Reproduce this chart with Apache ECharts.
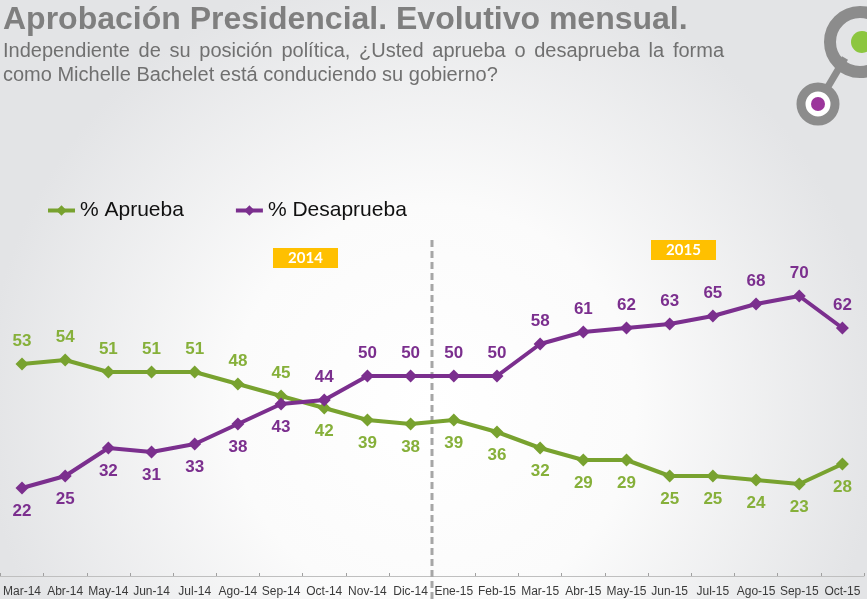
<!DOCTYPE html>
<html>
<head>
<meta charset="utf-8">
<script src="https://cdn.jsdelivr.net/npm/echarts@6/dist/echarts.min.js"></script>
<style>
html,body{margin:0;padding:0;}
#chart{width:867px;height:599px;}
</style>
</head>
<body>
<div id="chart"></div>
<script>
// meses
var meses = ['Mar-14','Abr-14','May-14','Jun-14','Jul-14','Ago-14','Sep-14','Oct-14','Nov-14','Dic-14',
    'Ene-15','Feb-15','Mar-15','Abr-15','May-15','Jun-15','Jul-15','Ago-15','Sep-15','Oct-15'];
var aprueba = [53,54,51,51,51,48,45,42,39,38,39,36,32,29,29,25,25,24,23,28];
var desaprueba = [22,25,32,31,33,38,43,44,50,50,50,50,58,61,62,63,65,68,70,62];
// donde se cruzan las etiquetas (indice desde el que cambian de lado)
var cruce = 7;

var verde = '#78a22f';
var morado = '#7b2f8e';

function datos(valores, arribaAntes){
    var out = [];
    for(var i = 0;i<valores.length;i++){
        var arriba = i < cruce ? arribaAntes : !arribaAntes;
        out.push({
            value: valores[i],
            label: {position: arriba ? 'top' : 'bottom'}
        });
    }
    return out;
}

var chart = echarts.init(document.getElementById('chart'));
var font = '"Liberation Sans", Arial, sans-serif';

// primera linea del subtitulo justificada (palabra por palabra)
var linea1 = 'Independiente de su posición política, ¿Usted aprueba o desaprueba la forma';
var subFont = '20px ' + font;
var ctx = document.createElement('canvas').getContext('2d');
ctx.font = subFont;
var palabras = linea1.split(' ');
var anchoTotal = 0;
for(var i = 0;i<palabras.length;i++){
    anchoTotal += ctx.measureText(palabras[i]).width;
}
var x0 = 3, x1 = 724;
var hueco = (x1 - x0 - anchoTotal) / (palabras.length - 1);
var subtitulo = [];
var xp = x0;
for(var i = 0;i<palabras.length;i++){
    subtitulo.push({type: 'text', x: xp, y: 41, style: {text: palabras[i], font: subFont, fill: '#707070'}});
    xp += ctx.measureText(palabras[i]).width + hueco;
}

var option = {
    animation: false,
    backgroundColor: {
        type: 'radial', x: 0.5, y: 0.68, r: 0.75,
        colorStops: [{offset: 0, color: '#ffffff'}, {offset: 0.45, color: '#fbfbfb'}, {offset: 1, color: '#e3e4e6'}]
    },
    textStyle: {fontFamily: font},
    legend: {
        left: 41,
        top: 195,
        itemWidth: 27,
        itemHeight: 13,
        itemGap: 50,
        lineStyle: {width: 4},
        textStyle: {fontSize: 21, color: '#111', fontFamily: font},
        data: ['% Aprueba', '% Desaprueba']
    },
    grid: {left: 0, right: 3, top: 176, bottom: 23},
    xAxis: {
        type: 'category',
        data: meses,
        axisLine: {lineStyle: {color: '#bfbfbf', width: 1}},
        axisTick: {show: true, length: 3, inside: true, lineStyle: {color: '#a0a0a0'}},
        axisLabel: {interval: 0, fontSize: 12, color: '#3a3a3a', margin: 10, fontFamily: font}
    },
    yAxis: {
        type: 'value',
        min: 0,
        max: 100,
        show: false,
        splitLine: {show: false}
    },
    series: [{
        name: '% Aprueba',
        type: 'line',
        data: datos(aprueba, true),
        color: verde,
        symbol: 'diamond',
        symbolSize: 13,
        lineStyle: {width: 4, color: verde},
        itemStyle: {color: verde},
        label: {show: true, fontSize: 17, fontWeight: 'bold', color: '#86b03a', distance: 8, fontFamily: font},
        emphasis: {disabled: true},
        z: 3
    },{
        name: '% Desaprueba',
        type: 'line',
        data: datos(desaprueba, false),
        color: morado,
        symbol: 'diamond',
        symbolSize: 13,
        lineStyle: {width: 4, color: morado},
        itemStyle: {color: morado},
        label: {show: true, fontSize: 17, fontWeight: 'bold', color: '#7b2f8e', distance: 8, fontFamily: font},
        emphasis: {disabled: true},
        z: 4
    }],
    graphic: [
        {type: 'text', left: 3, top: 4, style: {text: 'Aprobación Presidencial. Evolutivo mensual.', font: 'bold 32px ' + font, fill: '#7f7f7f'}},
        {type: 'text', left: 3, top: 65, style: {text: 'como Michelle Bachelet está conduciendo su gobierno?', font: subFont, fill: '#707070'}},
        // logo
        {type: 'line', shape: {x1: 845, y1: 58, x2: 826, y2: 90}, style: {stroke: '#8c8c8c', lineWidth: 7}},
        {type: 'circle', shape: {cx: 860, cy: 42, r: 30}, style: {fill: 'none', stroke: '#8c8c8c', lineWidth: 12}},
        {type: 'circle', shape: {cx: 862, cy: 42, r: 11}, style: {fill: '#8cc63f'}},
        {type: 'circle', shape: {cx: 818, cy: 104, r: 17}, style: {fill: '#fff', stroke: '#8c8c8c', lineWidth: 9}},
        {type: 'circle', shape: {cx: 818, cy: 104, r: 7}, style: {fill: '#9b359b'}},
        // cajas de año
        {type: 'rect', shape: {x: 273, y: 248, width: 65, height: 20}, style: {fill: '#ffc000'}},
        {type: 'text', x: 305.5, y: 258, style: {text: '2014', font: 'bold 15px Lato, ' + font, fill: '#fff', align: 'center', verticalAlign: 'middle'}},
        {type: 'rect', shape: {x: 651, y: 240, width: 65, height: 20}, style: {fill: '#ffc000'}},
        {type: 'text', x: 683.5, y: 250, style: {text: '2015', font: 'bold 15px Lato, ' + font, fill: '#fff', align: 'center', verticalAlign: 'middle'}}
    ].concat(subtitulo)
};
chart.setOption(option);

// linea divisoria entre Dic-14 y Ene-15
var p1 = chart.convertToPixel({xAxisIndex: 0}, 'Dic-14');
var p2 = chart.convertToPixel({xAxisIndex: 0}, 'Ene-15');
var xMid = Math.round((p1 + p2) / 2);
option.graphic.push({
    type: 'line', z: 1,
    shape: {x1: xMid, y1: 240, x2: xMid, y2: 599},
    style: {stroke: '#a6a6a6', lineWidth: 3, lineDash: [7, 4]}
});
chart.setOption({graphic: option.graphic});
</script>
</body>
</html>
